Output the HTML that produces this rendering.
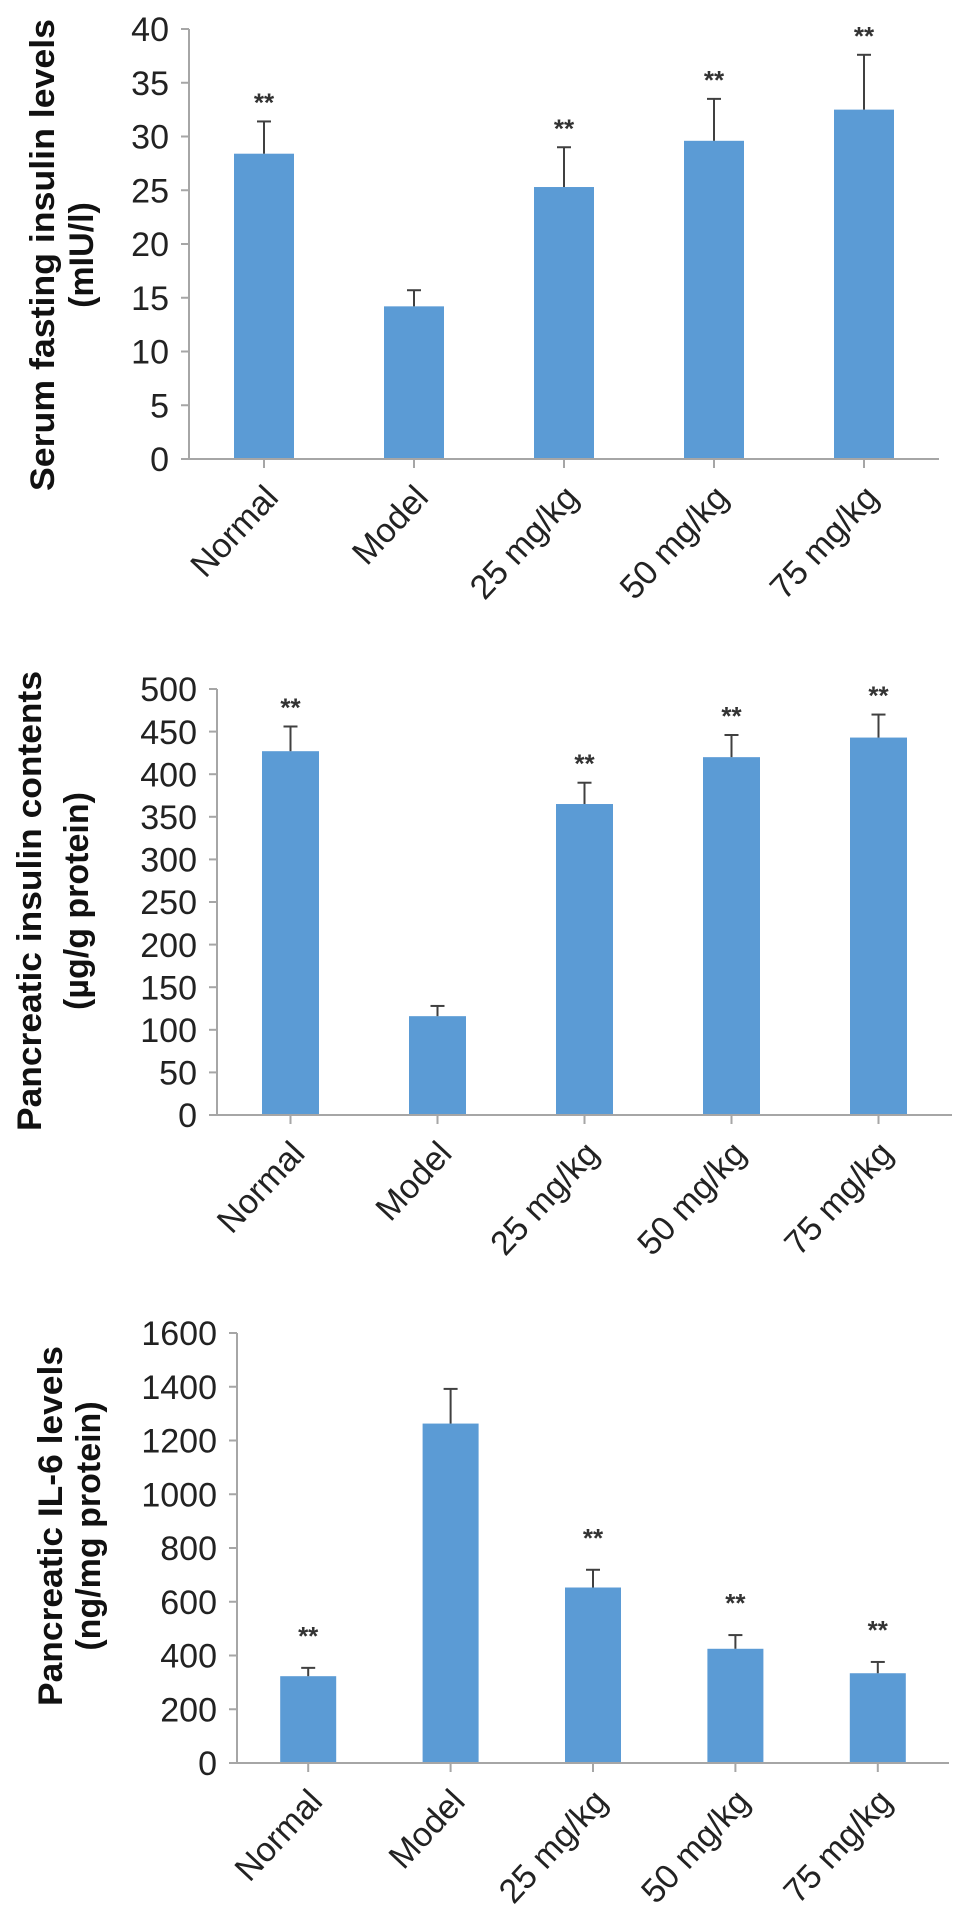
<!DOCTYPE html>
<html><head><meta charset="utf-8"><style>
html,body{margin:0;padding:0;background:#fff;}
svg{display:block;font-family:"Liberation Sans",Arial,sans-serif;}
</style></head><body>
<svg id="fig" width="969" height="1912" viewBox="0 0 969 1912" xmlns="http://www.w3.org/2000/svg"></svg>
<script>
const categories = ["Normal","Model","25 mg/kg","50 mg/kg","75 mg/kg"];
const insulinValues = [28.4, 14.2, 25.3, 29.6, 32.5];
const insulinErrors = [31.4, 15.7, 29.0, 33.5, 37.6];
const insulinStars = [true, false, true, true, true];
const insulinTicks = [0,5,10,15,20,25,30,35,40];
const contentValues = [427, 116, 365, 420, 443];
const contentErrors = [456, 128, 390, 446, 470];
const contentStars = [true, false, true, true, true];
const contentTicks = [0,50,100,150,200,250,300,350,400,450,500];
const il6Values = [323, 1263, 653, 425, 334];
const il6Errors = [354, 1392, 719, 476, 376];
const il6Stars = [true, false, true, true, true];
const il6Ticks = [0,200,400,600,800,1000,1200,1400,1600];

const NS = "http://www.w3.org/2000/svg";
const svg = document.getElementById('fig');
function mk(tag, attrs, parent){const e=document.createElementNS(NS,tag);for(const k in attrs)e.setAttribute(k,attrs[k]);(parent||svg).appendChild(e);return e;}

function chart(cfg){
  const g = mk('g',{});
  
  
  const max = cfg.ticks[cfg.ticks.length-1];
  const y = v => cfg.y0 - (v/max)*(cfg.y0-cfg.yTop);
  const step = (cfg.xEnd - cfg.x0)/categories.length;
  const x = i => cfg.x0 + step*(i+0.5);
  const ya = mk('line',{x1:cfg.x0,y1:cfg.yTop,x2:cfg.x0,y2:cfg.y0,stroke:'#a6a6a6','stroke-width':2},g);
  
  
  cfg.ticks.forEach(t=>{
    mk('line',{x1:cfg.x0-8,y1:y(t),x2:cfg.x0,y2:y(t),stroke:'#a6a6a6','stroke-width':2},g);
    const tl = mk('text',{x:cfg.x0-20,y:y(t)+cfg.tf*0.36,'text-anchor':'end','font-size':cfg.tf,fill:'#222'},g);
    tl.textContent = t;
    
    
  });
  categories.forEach((c,i)=>{
    const v = cfg.values[i], e = cfg.errors[i];
    const b = mk('rect',{x:x(i)-cfg.bw/2,y:y(v),width:cfg.bw,height:cfg.y0-y(v),fill:'#5b9bd5'},g);
    
    
    const el = mk('line',{x1:x(i),y1:y(v),x2:x(i),y2:y(e),stroke:'#404040','stroke-width':2},g);
    
    
    mk('line',{x1:x(i)-7,y1:y(e),x2:x(i)+7,y2:y(e),stroke:'#404040','stroke-width':2},g);
    if(cfg.stars[i]){
      const s = mk('text',{x:x(i),y:y(e)-cfg.starGap+10,'text-anchor':'middle','font-size':26,'font-weight':'bold',fill:'#333'},g);
      s.textContent='**';
      
      
    }
    mk('line',{x1:x(i),y1:cfg.y0,x2:x(i),y2:cfg.y0+9,stroke:'#a6a6a6','stroke-width':2},g);
    const xl = mk('text',{transform:`translate(${x(i)+16},${cfg.y0+40}) rotate(-47)`,'text-anchor':'end','font-size':34,fill:'#222'},g);
    xl.textContent = c;
    
    
  });
  const xa = mk('line',{x1:cfg.x0,y1:cfg.y0,x2:cfg.xEnd,y2:cfg.y0,stroke:'#a6a6a6','stroke-width':2},g);
  
  
  const t1 = mk('text',{transform:`translate(${cfg.l1x},${cfg.ly}) rotate(-90)`,'text-anchor':'middle','dominant-baseline':'central','font-size':34,'font-weight':'bold',fill:'#111',textLength:cfg.l1len,lengthAdjust:'spacingAndGlyphs'},g);
  t1.textContent = cfg.title1;
  
  
  const t2 = mk('text',{transform:`translate(${cfg.l2x},${cfg.ly}) rotate(-90)`,'text-anchor':'middle','dominant-baseline':'central','font-size':34,'font-weight':'bold',fill:'#111'},g);
  t2.textContent = cfg.title2;
  
  
}

chart({name:'serum-insulin-chart',values:insulinValues,errors:insulinErrors,stars:insulinStars,ticks:insulinTicks,
  x0:189,xEnd:939,y0:459,yTop:29,bw:60,tf:34,starGap:20,
  title1:'Serum fasting insulin levels',title2:'(mIU/l)',l1x:43,l2x:82,ly:255,l1len:472});
chart({name:'pancreatic-insulin-chart',values:contentValues,errors:contentErrors,stars:contentStars,ticks:contentTicks,
  x0:217,xEnd:952,y0:1115,yTop:689,bw:57,tf:34,starGap:20,
  title1:'Pancreatic insulin contents',title2:'(µg/g protein)',l1x:30,l2x:77,ly:901,l1len:460});
chart({name:'pancreatic-il6-chart',values:il6Values,errors:il6Errors,stars:il6Stars,ticks:il6Ticks,
  x0:237,xEnd:949,y0:1763,yTop:1333,bw:56,tf:34,starGap:33,
  title1:'Pancreatic IL-6 levels',title2:'(ng/mg protein)',l1x:51,l2x:89,ly:1526,l1len:360});
</script>
</body></html>
